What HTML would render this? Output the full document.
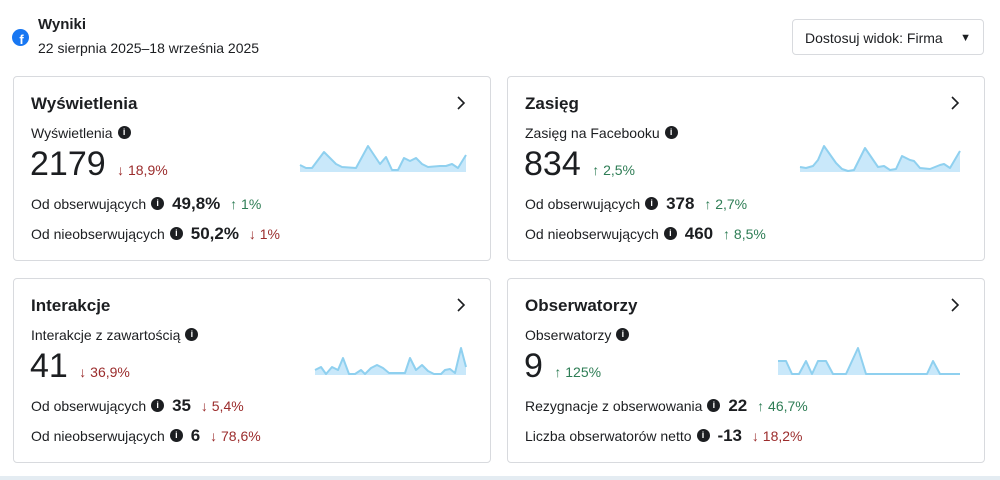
<!DOCTYPE html>
<html><head><meta charset="utf-8"><style>
body{margin:0;width:1000px;height:480px;background:#fff;font-family:"Liberation Sans",sans-serif;color:#1c1e21;position:relative;overflow:hidden}
.a{position:absolute;white-space:nowrap}
.card{position:absolute;width:476px;height:183px;border:1px solid #d8dade;border-radius:4px;background:#fff}
.t{font-size:17px;font-weight:bold;line-height:20px}
.l{font-size:14px;line-height:18px}
.big{font-size:34px;line-height:36px}
.v{font-size:17px;font-weight:bold}
.dn{color:#9b2c2c;font-size:14px}
.up{color:#2e7d55;font-size:14px}
.i{display:inline-block;width:13px;height:13px;border-radius:50%;background:#1c1e21;color:#fff;font-size:9px;font-weight:bold;text-align:center;line-height:13px;vertical-align:middle;position:relative;top:-2px;margin-left:5px}
</style></head><body>
<svg class="a" style="left:12px;top:29px" width="17" height="17" viewBox="0 0 17 17"><circle cx="8.5" cy="8.5" r="8.5" fill="#1877f2"/><text x="9.5" y="15" font-size="13" font-weight="bold" fill="#fff" font-family="Liberation Sans" text-anchor="middle">f</text></svg>
<div class="a" style="left:38px;top:16px;font-size:15px;font-weight:bold">Wyniki</div>
<div class="a" style="left:38px;top:40px;font-size:14px">22 sierpnia 2025–18 września 2025</div>
<div class="a" style="left:792px;top:19px;width:192px;height:36px;border:1px solid #d8dade;border-radius:4px;font-size:14px;line-height:36px;padding-left:12px;box-sizing:border-box">Dostosuj widok: Firma <span style="position:absolute;right:12px;font-size:11px">▼</span></div>

<div class="card" style="left:13px;top:76px"></div>
<div class="card" style="left:507px;top:76px"></div>
<div class="card" style="left:13px;top:278px"></div>
<div class="card" style="left:507px;top:278px"></div>

<svg class="a" style="left:0;top:0" width="1000" height="480">
<g fill="none" stroke="#1c1e21" stroke-width="1.6">
<polyline points="458,97 464,103 458,109"/><polyline points="952,97 958,103 952,109"/>
<polyline points="458,299 464,305 458,311"/><polyline points="952,299 958,305 952,311"/>
</g></svg>

<!-- card1 -->
<div class="a t" style="left:31px;top:94px">Wyświetlenia</div>
<div class="a l" style="left:31px;top:124px">Wyświetlenia<span class="i">i</span></div>
<div class="a big" style="left:30px;top:146px">2179 <span class="dn" style="margin-left:2px">↓ 18,9%</span></div>
<div class="a l" style="left:31px;top:195px">Od obserwujących<span class="i">i</span> <span class="v" style="margin-left:4px">49,8%</span> <span class="up" style="margin-left:6px">↑ 1%</span></div>
<div class="a l" style="left:31px;top:225px">Od nieobserwujących<span class="i">i</span> <span class="v" style="margin-left:4px">50,2%</span> <span class="dn" style="margin-left:6px">↓ 1%</span></div>

<!-- card2 -->
<div class="a t" style="left:525px;top:94px">Zasięg</div>
<div class="a l" style="left:525px;top:124px">Zasięg na Facebooku<span class="i">i</span></div>
<div class="a big" style="left:524px;top:146px">834 <span class="up" style="margin-left:2px">↑ 2,5%</span></div>
<div class="a l" style="left:525px;top:195px">Od obserwujących<span class="i">i</span> <span class="v" style="margin-left:4px">378</span> <span class="up" style="margin-left:6px">↑ 2,7%</span></div>
<div class="a l" style="left:525px;top:225px">Od nieobserwujących<span class="i">i</span> <span class="v" style="margin-left:4px">460</span> <span class="up" style="margin-left:6px">↑ 8,5%</span></div>

<!-- card3 -->
<div class="a t" style="left:31px;top:296px">Interakcje</div>
<div class="a l" style="left:31px;top:326px">Interakcje z zawartością<span class="i">i</span></div>
<div class="a big" style="left:30px;top:348px">41 <span class="dn" style="margin-left:2px">↓ 36,9%</span></div>
<div class="a l" style="left:31px;top:397px">Od obserwujących<span class="i">i</span> <span class="v" style="margin-left:4px">35</span> <span class="dn" style="margin-left:6px">↓ 5,4%</span></div>
<div class="a l" style="left:31px;top:427px">Od nieobserwujących<span class="i">i</span> <span class="v" style="margin-left:4px">6</span> <span class="dn" style="margin-left:6px">↓ 78,6%</span></div>

<!-- card4 -->
<div class="a t" style="left:525px;top:296px">Obserwatorzy</div>
<div class="a l" style="left:525px;top:326px">Obserwatorzy<span class="i">i</span></div>
<div class="a big" style="left:524px;top:348px">9 <span class="up" style="margin-left:2px">↑ 125%</span></div>
<div class="a l" style="left:525px;top:397px">Rezygnacje z obserwowania<span class="i">i</span> <span class="v" style="margin-left:4px">22</span> <span class="up" style="margin-left:6px">↑ 46,7%</span></div>
<div class="a l" style="left:525px;top:427px">Liczba obserwatorów netto<span class="i">i</span> <span class="v" style="margin-left:4px">-13</span> <span class="dn" style="margin-left:6px">↓ 18,2%</span></div>

<svg class="a" style="left:0;top:0" width="1000" height="480">
<g fill="#c9e8fa" stroke="#8fd0ef" stroke-width="2" stroke-linejoin="round">
<polygon points="300,172 300,165 306,168 312,168 324,152 336,164 342,167 356,168 368,146 380,164 386,157 392,170 398,170 404,158 410,161 416,158 422,164 428,167 440,166 446,166 452,164 458,168 466,155 466,172" stroke="none"/>
<polyline fill="none" points="300,165 306,168 312,168 324,152 336,164 342,167 356,168 368,146 380,164 386,157 392,170 398,170 404,158 410,161 416,158 422,164 428,167 440,166 446,166 452,164 458,168 466,155"/>
<polygon stroke="none" points="800,172 800,167 806,168 813,166 818,160 824,146 836,163 842,169 848,171 854,170 865,148 878,167 884,166 890,170 896,169 902,156 910,160 914,161 920,168 930,169 940,165 944,164 950,168 960,151 960,172"/>
<polyline fill="none" points="800,167 806,168 813,166 818,160 824,146 836,163 842,169 848,171 854,170 865,148 878,167 884,166 890,170 896,169 902,156 910,160 914,161 920,168 930,169 940,165 944,164 950,168 960,151"/>
<polygon stroke="none" points="315,375 315,370 321,367 326,374 332,367 338,370 343,358 349,374 355,374 361,370 365,374 371,368 377,365 383,368 389,373 405,373 410,358 416,370 422,365 428,371 434,374 441,374 445,370 450,369 455,373 461,348 466,367 466,375"/>
<polyline fill="none" points="315,370 321,367 326,374 332,367 338,370 343,358 349,374 355,374 361,370 365,374 371,368 377,365 383,368 389,373 405,373 410,358 416,370 422,365 428,371 434,374 441,374 445,370 450,369 455,373 461,348 466,367"/>
<polygon stroke="none" points="778,375 778,361 786,361 792,374 799,374 806,361 812,374 818,361 826,361 833,374 846,374 858,348 866,374 927,374 933,361 940,374 960,374 960,375"/>
<polyline fill="none" points="778,361 786,361 792,374 799,374 806,361 812,374 818,361 826,361 833,374 846,374 858,348 866,374 927,374 933,361 940,374 960,374"/>
</g>
<rect x="0" y="476" width="1000" height="4" fill="#e4ecf2"/>
</svg>
</body></html>
